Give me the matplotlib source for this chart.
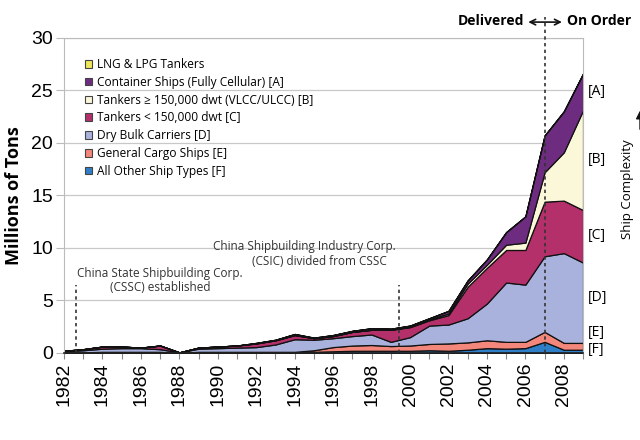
import matplotlib
matplotlib.use("Agg")
import matplotlib.pyplot as plt
from matplotlib.patches import Patch

# Chinese shipbuilding output by ship type, millions of tons (stacked)
years = list(range(1982, 2010))

other_types = [0.03, 0.03, 0.05, 0.05, 0.05, 0.05, 0.0, 0.05, 0.05, 0.05, 0.05, 0.05, 0.05, 0.1,
               0.15, 0.2, 0.2, 0.2, 0.2, 0.25, 0.2, 0.3, 0.45, 0.4, 0.45, 1.05, 0.3, 0.3]
general_cargo = [0.02, 0.02, 0.05, 0.05, 0.05, 0.05, 0.0, 0.05, 0.05, 0.05, 0.05, 0.05, 0.05, 0.15,
                 0.4, 0.5, 0.55, 0.45, 0.5, 0.6, 0.7, 0.7, 0.75, 0.65, 0.6, 0.95, 0.65, 0.65]
dry_bulk = [0.1, 0.2, 0.3, 0.35, 0.35, 0.25, 0.05, 0.3, 0.35, 0.4, 0.45, 0.7, 1.2, 1.0,
            0.85, 0.9, 1.0, 0.4, 0.8, 1.75, 1.8, 2.3, 3.5, 5.65, 5.45, 7.2, 8.55, 7.65]
tankers_small = [0.05, 0.1, 0.2, 0.15, 0.05, 0.35, 0.0, 0.1, 0.15, 0.2, 0.35, 0.4, 0.4, 0.15,
                 0.2, 0.4, 0.45, 1.15, 0.95, 0.5, 0.9, 3.0, 3.4, 3.1, 3.3, 5.2, 5.0, 5.0]
tankers_large = [0, 0, 0, 0, 0, 0, 0, 0, 0, 0, 0, 0, 0, 0,
                 0, 0, 0, 0, 0.05, 0.1, 0.15, 0.3, 0.3, 0.5, 0.7, 2.8, 4.6, 9.5]
container = [0, 0, 0, 0, 0, 0, 0, 0, 0, 0, 0.05, 0.05, 0.1, 0.05,
             0.1, 0.1, 0.15, 0.1, 0.1, 0.1, 0.25, 0.3, 0.5, 1.2, 2.5, 3.5, 3.9, 3.5]
lng_lpg = [0] * 28

labels = ["All Other Ship Types [F]", "General Cargo Ships [E]", "Dry Bulk Carriers [D]",
          "Tankers < 150,000 dwt [C]", "Tankers \u2265 150,000 dwt (VLCC/ULCC) [B]",
          "Container Ships (Fully Cellular) [A]", "LNG & LPG Tankers"]
colors = ["#2f7fc8", "#f3877c", "#a9b2dc", "#b3306a", "#fbf7d9", "#6e2c80", "#ece85a"]
side_tags = ["[F]", "[E]", "[D]", "[C]", "[B]", "[A]"]
side_y = [0.3, 1.9, 5.3, 11.2, 18.4, 24.9]

tick_font = "Liberation Sans"
note_font = "Open Sans"

fig = plt.figure(figsize=(6.4, 4.4), dpi=100)
ax = fig.add_axes([0.1, 0.198, 0.811, 0.716])

ax.stackplot(years, other_types, general_cargo, dry_bulk, tankers_small, tankers_large,
             container, lng_lpg, colors=colors, edgecolor="#111111", linewidth=0.9)

ax.set_xlim(1982, 2009)
ax.set_ylim(0, 30)
ax.set_yticks(range(0, 31, 5))
ax.set_yticklabels([str(v) for v in range(0, 31, 5)], fontsize=14, family=tick_font)
ax.set_xticks(range(1982, 2010))
ax.set_xticklabels([str(y) if y % 2 == 0 else "" for y in years], rotation=90,
                   fontsize=14, family=tick_font)
ax.tick_params(axis="y", length=6, color="#bbbbbb", pad=2)
ax.tick_params(axis="x", length=4, color="#888888", pad=3)
ax.grid(axis="y", color="#c8c8c8", lw=0.9)
ax.set_axisbelow(True)
for side in ["left", "right", "top"]:
    ax.spines[side].set_color("#bbbbbb")
ax.spines["bottom"].set_color("#222222")
ax.spines["bottom"].set_linewidth(1.2)

ax.set_ylabel("Millions of Tons", fontsize=13, fontweight="bold", family=note_font, labelpad=6)

# event markers
ax.plot([1982.6, 1982.6], [0, 6.5], ls=(0, (2, 2)), color="#333333", lw=1.2)
ax.plot([1999.45, 1999.45], [0, 6.5], ls=(0, (2, 2)), color="#333333", lw=1.2)
ax.plot([2007, 2007], [0, 32.0], ls=(0, (2, 2)), color="#333333", lw=1.2, clip_on=False, zorder=5)

ax.text(1987.0, 7.6, "China State Shipbuilding Corp.", ha="center", va="center",
        fontsize=8.5, family=note_font, color="#333333")
ax.text(1987.0, 6.2, "(CSSC) established", ha="center", va="center",
        fontsize=8.5, family=note_font, color="#333333")
ax.text(1994.5, 10.1, "China Shipbuilding Industry Corp.", ha="center", va="center",
        fontsize=8.5, family=note_font, color="#333333")
ax.text(1995.3, 8.7, "(CSIC) divided from CSSC", ha="center", va="center",
        fontsize=8.5, family=note_font, color="#333333")

ax.text(2005.95, 31.6, "Delivered", ha="right", va="center", fontsize=10,
        fontweight="bold", family=note_font, clip_on=False)
ax.text(2008.15, 31.6, "On Order", ha="left", va="center", fontsize=10,
        fontweight="bold", family=note_font, clip_on=False)
ax.annotate("", xy=(2006.15, 31.5), xytext=(2007.9, 31.5),
            arrowprops=dict(arrowstyle="<->", lw=1.2, color="#111111",
                            shrinkA=0, shrinkB=0), annotation_clip=False)

for tag, yv in zip(side_tags, side_y):
    ax.text(2009.25, yv, tag, ha="left", va="center", fontsize=10, family=note_font,
            clip_on=False)

fig.text(0.98, 0.57, "Ship Complexity", rotation=90, ha="center", va="center",
         fontsize=9.5, family=note_font)
# complexity arrow, mostly cut off at the right edge in the original
fig.add_artist(matplotlib.patches.FancyArrowPatch((1.0, 0.70), (1.0, 0.755),
               transform=fig.transFigure, arrowstyle="-|>", mutation_scale=12,
               color="#111111", lw=1.0))

handles = [Patch(facecolor=c, edgecolor="#444444", lw=0.8) for c in colors]
leg = ax.legend(handles[::-1], labels[::-1], loc="upper left", bbox_to_anchor=(0.02, 0.97),
                frameon=False, handlelength=0.6, handleheight=0.6, handletextpad=0.4,
                labelspacing=0.4, prop={"family": note_font, "size": 8.6})

fig.savefig("out.png", dpi=100)
